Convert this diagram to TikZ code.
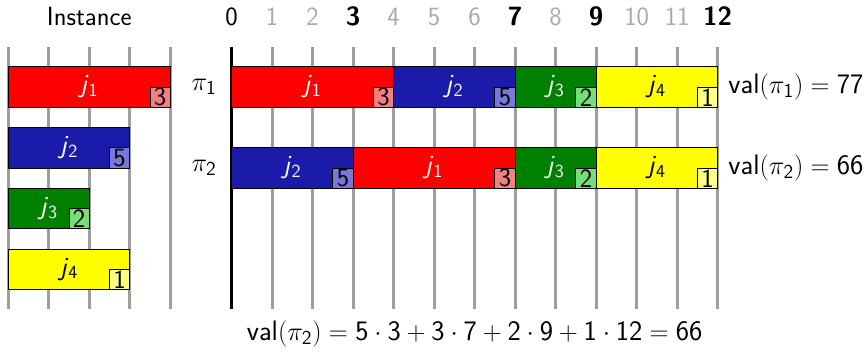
\documentclass[tikz,border=0pt]{standalone}
\usepackage{fontspec}
\usepackage{graphicx}
\renewcommand\familydefault{\sfdefault}
\definecolor{jred}{RGB}{255,0,0}
\definecolor{jredl}{RGB}{242,128,128}
\definecolor{jblue}{RGB}{27,27,170}
\definecolor{jbluel}{RGB}{120,120,220}
\definecolor{jgreen}{RGB}{0,128,0}
\definecolor{jgreenl}{RGB}{119,221,119}
\definecolor{jyellow}{RGB}{255,255,0}
\definecolor{jyellowl}{RGB}{255,255,128}
\definecolor{gridgray}{RGB}{158,158,158}
\definecolor{numgray}{RGB}{170,170,170}
\newcommand\jlab[1]{\textit{j}\textsubscript{#1}}
\newcommand\pilab[1]{\scalebox{1.07}{$\pi_{\mathsf{#1}}$}}
\newcommand\mlab[1]{\scalebox{1.07}{$#1$}}
\begin{document}
\begin{tikzpicture}[font=\fontsize{18.5}{21}\selectfont\sffamily,
  gridline/.style={draw=gridgray, line width=2pt},
  axisline/.style={draw=black, line width=2pt},
  bar/.style={draw=black, line width=0.6pt, inner sep=0pt, outer sep=0pt, minimum height=1cm, anchor=north west},
  wbox/.style={draw=black, line width=0.6pt, inner sep=0pt, outer sep=0pt, minimum size=0.5cm, anchor=south east, text=black},
  jr/.style={bar, fill=jred, text=white},
  jb/.style={bar, fill=jblue, text=white},
  jg/.style={bar, fill=jgreen, text=white},
  jy/.style={bar, fill=jyellow, text=black},
  tick/.style={inner sep=0pt, anchor=base},
  tickg/.style={tick, text=numgray},
  tickb/.style={tick, font=\fontsize{18.5}{21}\selectfont\sffamily\bfseries},
  mathlab/.style={inner sep=0pt}
]
\useasboundingbox (0,0) rectangle (21.432,-8.790);

% grid lines
\foreach \k in {0,...,4}
  \draw[gridline] (0.205+\k,-1.16) -- (0.205+\k,-7.63);
\foreach \k in {1,...,12}
  \draw[gridline] (5.72+\k,-1.16) -- (5.72+\k,-7.63);
\draw[axisline] (5.72,-1.16) -- (5.72,-7.63);

% header
\node[anchor=base] (inst) at (2.205,-0.63) {Instance};
\node[tick] (t0) at (5.72,-0.63) {0};
\node[tickg] (t1) at (6.72,-0.63) {1};
\node[tickg] (t2) at (7.72,-0.63) {2};
\node[tickb] (t3) at (8.72,-0.63) {3};
\node[tickg] (t4) at (9.72,-0.63) {4};
\node[tickg] (t5) at (10.72,-0.63) {5};
\node[tickg] (t6) at (11.72,-0.63) {6};
\node[tickb] (t7) at (12.72,-0.63) {7};
\node[tickg] (t8) at (13.72,-0.63) {8};
\node[tickb] (t9) at (14.72,-0.63) {9};
\node[tickg] (t10) at (15.72,-0.63) {10};
\node[tickg] (t11) at (16.72,-0.63) {11};
\node[tickb] (t12) at (17.72,-0.63) {12};

% instance
\node[jr, minimum width=4cm] (i1) at (0.205,-1.65) {\jlab{1}};
\node[wbox, fill=jredl] (i1w) at (i1.south east) {3};
\node[jb, minimum width=3cm] (i2) at (0.205,-3.15) {\jlab{2}};
\node[wbox, fill=jbluel] (i2w) at (i2.south east) {5};
\node[jg, minimum width=2cm] (i3) at (0.205,-4.65) {\jlab{3}};
\node[wbox, fill=jgreenl] (i3w) at (i3.south east) {2};
\node[jy, minimum width=3cm] (i4) at (0.205,-6.15) {\jlab{4}};
\node[wbox, fill=jyellowl] (i4w) at (i4.south east) {1};

% pi1
\node[mathlab] (p1) at (5.04,-2.15) {\pilab{1}};
\node[jr, minimum width=4cm] (a1) at (5.72,-1.65) {\jlab{1}};
\node[wbox, fill=jredl] (a1w) at (a1.south east) {3};
\node[jb, minimum width=3cm] (a2) at (9.72,-1.65) {\jlab{2}};
\node[wbox, fill=jbluel] (a2w) at (a2.south east) {5};
\node[jg, minimum width=2cm] (a3) at (12.72,-1.65) {\jlab{3}};
\node[wbox, fill=jgreenl] (a3w) at (a3.south east) {2};
\node[jy, minimum width=3cm] (a4) at (14.72,-1.65) {\jlab{4}};
\node[wbox, fill=jyellowl] (a4w) at (a4.south east) {1};
\node[mathlab, anchor=west] (v1) at (17.98,-2.15) {\mlab{\mathsf{val}(\pi_{\mathsf{1}})=\mathsf{77}}};

% pi2
\node[mathlab] (p2) at (5.04,-4.15) {\pilab{2}};
\node[jb, minimum width=3cm] (b2) at (5.72,-3.65) {\jlab{2}};
\node[wbox, fill=jbluel] (b2w) at (b2.south east) {5};
\node[jr, minimum width=4cm] (b1) at (8.72,-3.65) {\jlab{1}};
\node[wbox, fill=jredl] (b1w) at (b1.south east) {3};
\node[jg, minimum width=2cm] (b3) at (12.72,-3.65) {\jlab{3}};
\node[wbox, fill=jgreenl] (b3w) at (b3.south east) {2};
\node[jy, minimum width=3cm] (b4) at (14.72,-3.65) {\jlab{4}};
\node[wbox, fill=jyellowl] (b4w) at (b4.south east) {1};
\node[mathlab, anchor=west] (v2) at (17.98,-4.15) {\mlab{\mathsf{val}(\pi_{\mathsf{2}})=\mathsf{66}}};

% formula
\node[mathlab] (f) at (11.72,-8.25) {\mlab{\mathsf{val}(\pi_{\mathsf{2}})=\mathsf{5\cdot3+3\cdot7+2\cdot9+1\cdot12=66}}};
\end{tikzpicture}
\end{document}
